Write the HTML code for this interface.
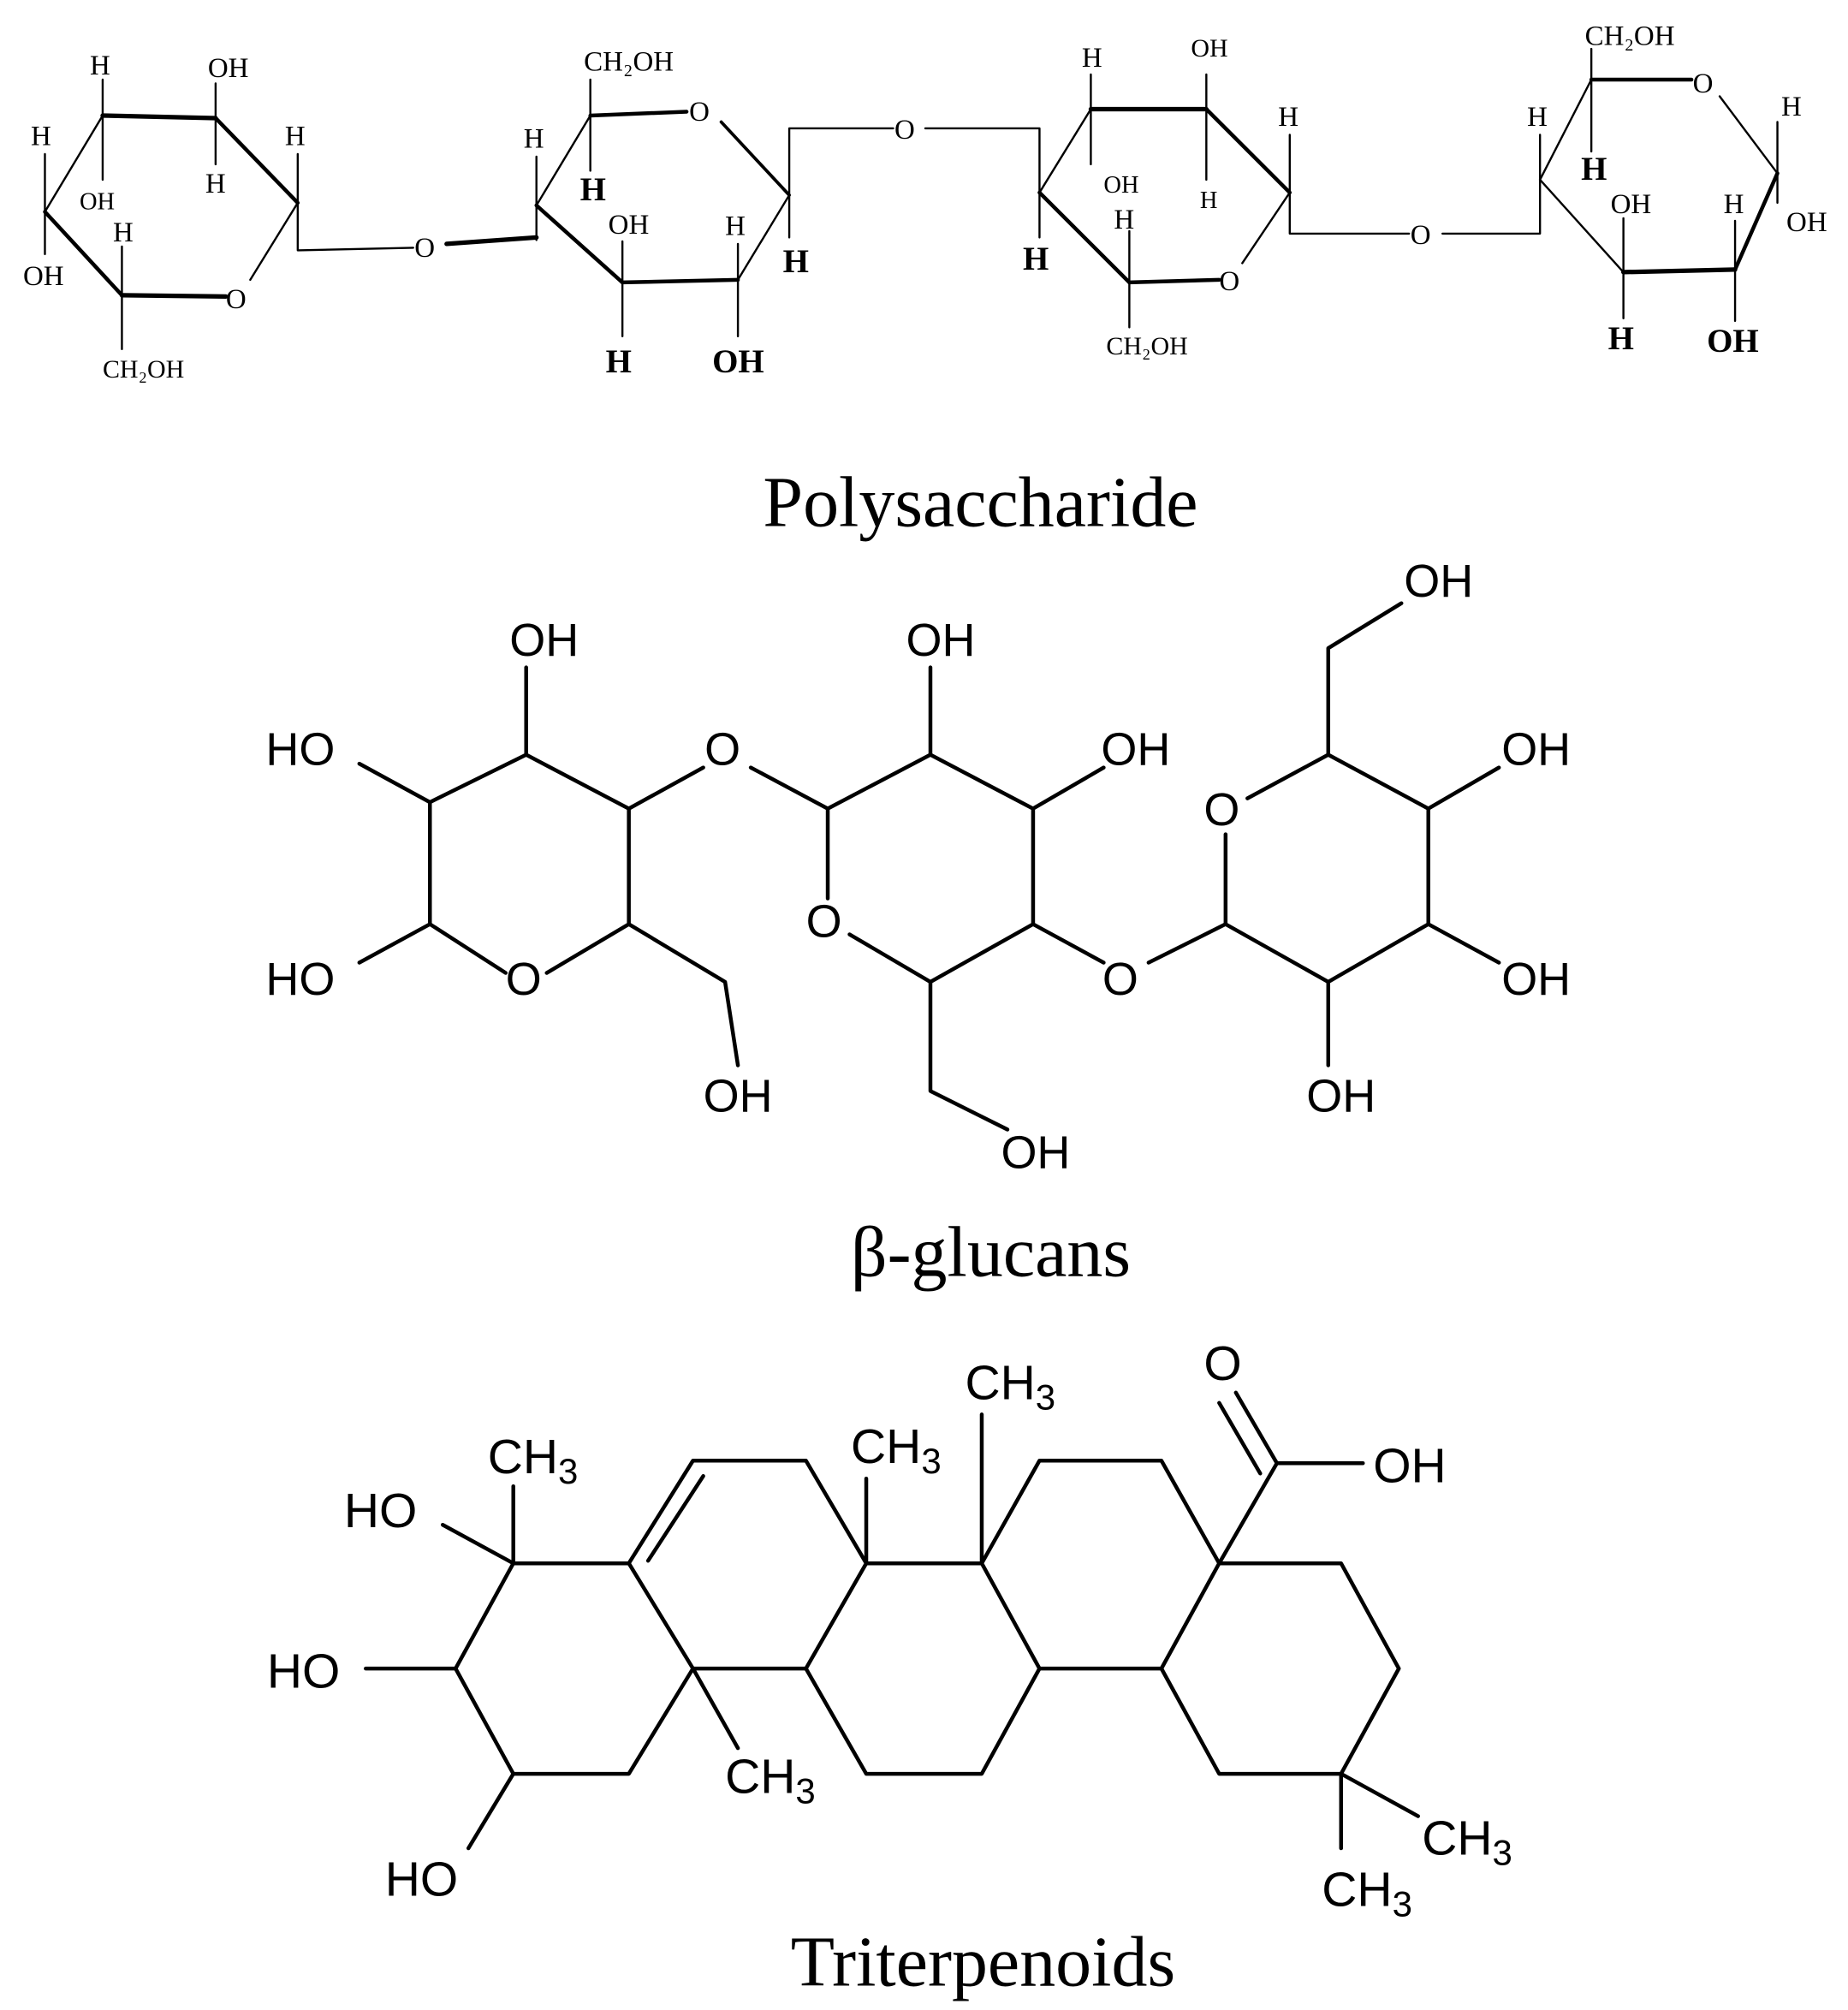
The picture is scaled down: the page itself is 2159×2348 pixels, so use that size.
<!DOCTYPE html>
<html><head><meta charset="utf-8"><style>
html,body{margin:0;padding:0;background:#fff}
svg{display:block}
.s text{font-family:"Liberation Serif",serif;fill:#000}
.a text{font-family:"Liberation Sans",sans-serif;fill:#000}
</style></head><body>
<svg width="2159" height="2348" viewBox="0 0 1440 1566" xmlns="http://www.w3.org/2000/svg">
<g stroke="#000" fill="none" stroke-linecap="round" stroke-linejoin="round">
<g stroke-width="1.6">
<line x1="80" y1="90" x2="168" y2="92" stroke-width="3.5"/>
<line x1="168" y1="92" x2="232" y2="158" stroke-width="3"/>
<line x1="232" y1="158" x2="195" y2="218"/>
<line x1="176" y1="231" x2="95" y2="230" stroke-width="3.5"/>
<line x1="95" y1="230" x2="35" y2="165" stroke-width="3"/>
<line x1="35" y1="165" x2="80" y2="90"/>
<line x1="80" y1="90" x2="80" y2="62"/><line x1="80" y1="90" x2="80" y2="140"/>
<line x1="168" y1="92" x2="168" y2="65"/><line x1="168" y1="92" x2="168" y2="128"/>
<line x1="232" y1="158" x2="232" y2="120"/><polyline points="232,158 232,195 322,193"/>
<line x1="35" y1="165" x2="35" y2="120"/><line x1="35" y1="165" x2="35" y2="198"/>
<line x1="95" y1="230" x2="95" y2="192"/><line x1="95" y1="230" x2="95" y2="272"/>
<line x1="348" y1="190" x2="418" y2="185" stroke-width="3.5"/>
<line x1="418" y1="160" x2="418" y2="187"/>
<line x1="460" y1="90" x2="535" y2="87" stroke-width="3"/>
<line x1="562" y1="95" x2="615" y2="152" stroke-width="2.5"/>
<line x1="615" y1="152" x2="575" y2="218"/>
<line x1="575" y1="218" x2="485" y2="220" stroke-width="3"/>
<line x1="485" y1="220" x2="418" y2="160" stroke-width="3"/>
<line x1="418" y1="160" x2="460" y2="90"/>
<line x1="460" y1="90" x2="460" y2="62"/><line x1="460" y1="90" x2="460" y2="133"/>
<line x1="418" y1="160" x2="418" y2="122"/>
<line x1="485" y1="220" x2="485" y2="188"/><line x1="485" y1="220" x2="485" y2="262"/>
<line x1="575" y1="218" x2="575" y2="190"/><line x1="575" y1="218" x2="575" y2="262"/>
<line x1="615" y1="152" x2="615" y2="185"/>
<polyline points="615,152 615,100 696,100"/>
<polyline points="721,100 810,100 810,150"/>
<line x1="850" y1="85" x2="940" y2="85" stroke-width="3.5"/>
<line x1="940" y1="85" x2="1005" y2="150" stroke-width="3"/>
<line x1="1005" y1="150" x2="968" y2="205"/>
<line x1="950" y1="218" x2="880" y2="220" stroke-width="3"/>
<line x1="880" y1="220" x2="810" y2="150" stroke-width="3"/>
<line x1="810" y1="150" x2="850" y2="85"/>
<line x1="850" y1="85" x2="850" y2="58"/><line x1="850" y1="85" x2="850" y2="128"/>
<line x1="940" y1="85" x2="940" y2="58"/><line x1="940" y1="85" x2="940" y2="140"/>
<line x1="1005" y1="150" x2="1005" y2="105"/><polyline points="1005,150 1005,182 1098,182"/>
<line x1="810" y1="150" x2="810" y2="185"/>
<line x1="880" y1="220" x2="880" y2="180"/><line x1="880" y1="220" x2="880" y2="255"/>
<polyline points="1124,182 1200,182 1200,140"/>
<line x1="1240" y1="62" x2="1318" y2="62" stroke-width="3"/>
<line x1="1340" y1="75" x2="1385" y2="135"/>
<line x1="1385" y1="135" x2="1352" y2="210" stroke-width="3"/>
<line x1="1352" y1="210" x2="1265" y2="212" stroke-width="3.5"/>
<line x1="1265" y1="212" x2="1200" y2="140"/>
<line x1="1200" y1="140" x2="1240" y2="62"/>
<line x1="1240" y1="62" x2="1240" y2="38"/><line x1="1240" y1="62" x2="1240" y2="118"/>
<line x1="1200" y1="140" x2="1200" y2="105"/>
<line x1="1385" y1="135" x2="1385" y2="95"/><line x1="1385" y1="135" x2="1385" y2="158"/>
<line x1="1352" y1="210" x2="1352" y2="172"/><line x1="1352" y1="210" x2="1352" y2="250"/>
<line x1="1265" y1="212" x2="1265" y2="170"/><line x1="1265" y1="212" x2="1265" y2="248"/>
</g>
<g stroke-width="3">
<polyline points="410,588 490,630 490,720 426,758"/>
<polyline points="394,758 335,720 335,625 410,588"/>
<line x1="410" y1="588" x2="410" y2="520"/>
<line x1="335" y1="625" x2="280" y2="595"/>
<line x1="335" y1="720" x2="280" y2="750"/>
<polyline points="490,720 565,765 575,830"/>
<line x1="490" y1="630" x2="548" y2="598"/>
<line x1="585" y1="598" x2="645" y2="630"/>
<polyline points="645,630 725,588 805,630 805,720 725,765 662,728"/>
<line x1="645" y1="630" x2="645" y2="700"/>
<line x1="725" y1="588" x2="725" y2="520"/>
<line x1="805" y1="630" x2="860" y2="598"/>
<line x1="805" y1="720" x2="860" y2="750"/>
<polyline points="725,765 725,850 785,880"/>
<line x1="895" y1="750" x2="955" y2="720"/>
<polyline points="955,720 1035,765 1113,720 1113,630 1035,588 972,622"/>
<line x1="955" y1="720" x2="955" y2="650"/>
<polyline points="1035,588 1035,505 1092,470"/>
<line x1="1113" y1="630" x2="1168" y2="598"/>
<line x1="1113" y1="720" x2="1168" y2="750"/>
<line x1="1035" y1="765" x2="1035" y2="830"/>
</g>
<g stroke-width="3">
<polygon points="400,1218 490,1218 540,1300 490,1382 400,1382 355,1300"/>
<polyline points="490,1218 540,1138 628,1138 675,1218 628,1300 540,1300"/>
<line x1="505" y1="1216" x2="548" y2="1150"/>
<polyline points="675,1218 765,1218 810,1300 765,1382 675,1382 628,1300"/>
<polyline points="765,1218 810,1138 905,1138 950,1218 905,1300 810,1300"/>
<polyline points="950,1218 1045,1218 1090,1300 1045,1382 950,1382 905,1300"/>
<line x1="400" y1="1218" x2="400" y2="1158"/>
<line x1="400" y1="1218" x2="345" y2="1188"/>
<line x1="355" y1="1300" x2="285" y2="1300"/>
<line x1="400" y1="1382" x2="365" y2="1440"/>
<line x1="540" y1="1300" x2="575" y2="1362"/>
<line x1="675" y1="1218" x2="675" y2="1152"/>
<line x1="765" y1="1218" x2="765" y2="1102"/>
<line x1="950" y1="1218" x2="995" y2="1140"/>
<line x1="995" y1="1140" x2="1062" y2="1140"/>
<line x1="995" y1="1140" x2="963" y2="1085"/>
<line x1="982" y1="1148" x2="950" y2="1093"/>
<line x1="1045" y1="1382" x2="1105" y2="1415"/>
<line x1="1045" y1="1382" x2="1045" y2="1440"/>
</g>
</g>
<g class="s" font-size="22">
<text x="70" y="58">H</text><text x="162" y="60">OH</text>
<text x="62" y="163" font-size="19">OH</text><text x="160" y="150">H</text>
<text x="222" y="113">H</text><text x="24" y="113">H</text>
<text x="18" y="222">OH</text><text x="88" y="188">H</text>
<text x="80" y="294" font-size="20">CH₂OH</text>
<text x="176" y="240">O</text>
<text x="323" y="200">O</text>
<text x="455" y="55">CH₂OH</text>
<text x="537" y="94">O</text>
<text x="408" y="115">H</text>
<text x="452" y="156" font-weight="bold" font-size="26">H</text>
<text x="474" y="182">OH</text><text x="565" y="183">H</text>
<text x="472" y="290" font-weight="bold" font-size="26">H</text>
<text x="555" y="290" font-weight="bold" font-size="26">OH</text>
<text x="610" y="212" font-weight="bold" font-size="26">H</text>
<text x="697" y="108">O</text>
<text x="843" y="52">H</text><text x="928" y="44" font-size="20">OH</text>
<text x="996" y="98">H</text><text x="860" y="150" font-size="19">OH</text>
<text x="935" y="162" font-size="19">H</text>
<text x="868" y="178">H</text>
<text x="797" y="210" font-weight="bold" font-size="26">H</text>
<text x="950" y="226">O</text>
<text x="862" y="276" font-size="20">CH₂OH</text>
<text x="1099" y="190">O</text>
<text x="1235" y="35">CH₂OH</text>
<text x="1319" y="72">O</text>
<text x="1190" y="98">H</text>
<text x="1232" y="140" font-weight="bold" font-size="26">H</text>
<text x="1388" y="90">H</text>
<text x="1392" y="180">OH</text>
<text x="1255" y="166">OH</text><text x="1343" y="166">H</text>
<text x="1253" y="272" font-weight="bold" font-size="26">H</text>
<text x="1330" y="274" font-weight="bold" font-size="26">OH</text>
</g>
<g class="s" font-size="56">
<text x="764" y="410" text-anchor="middle">Polysaccharide</text>
<text x="772" y="994" text-anchor="middle">β-glucans</text>
<text x="766" y="1547" text-anchor="middle">Triterpenoids</text>
</g>
<g class="a" font-size="36">
<text x="397" y="511">OH</text><text x="207" y="596">HO</text>
<text x="207" y="775">HO</text><text x="394" y="775">O</text>
<text x="549" y="596">O</text><text x="548" y="866">OH</text>
<text x="706" y="511">OH</text><text x="858" y="596">OH</text>
<text x="628" y="730">O</text><text x="859" y="775">O</text>
<text x="780" y="910">OH</text>
<text x="1094" y="465">OH</text><text x="938" y="643">O</text>
<text x="1170" y="596">OH</text><text x="1170" y="775">OH</text>
<text x="1018" y="866">OH</text>
</g>
<g class="a" font-size="38">
<text x="380" y="1148">CH<tspan font-size="28" dy="8">3</tspan></text>
<text x="268" y="1190">HO</text>
<text x="208" y="1315">HO</text>
<text x="300" y="1477">HO</text>
<text x="565" y="1397">CH<tspan font-size="28" dy="8">3</tspan></text>
<text x="663" y="1140">CH<tspan font-size="28" dy="8">3</tspan></text>
<text x="752" y="1090">CH<tspan font-size="28" dy="8">3</tspan></text>
<text x="938" y="1075">O</text>
<text x="1070" y="1155">OH</text>
<text x="1108" y="1445">CH<tspan font-size="28" dy="8">3</tspan></text>
<text x="1030" y="1485">CH<tspan font-size="28" dy="8">3</tspan></text>
</g>
</svg>
</body></html>
